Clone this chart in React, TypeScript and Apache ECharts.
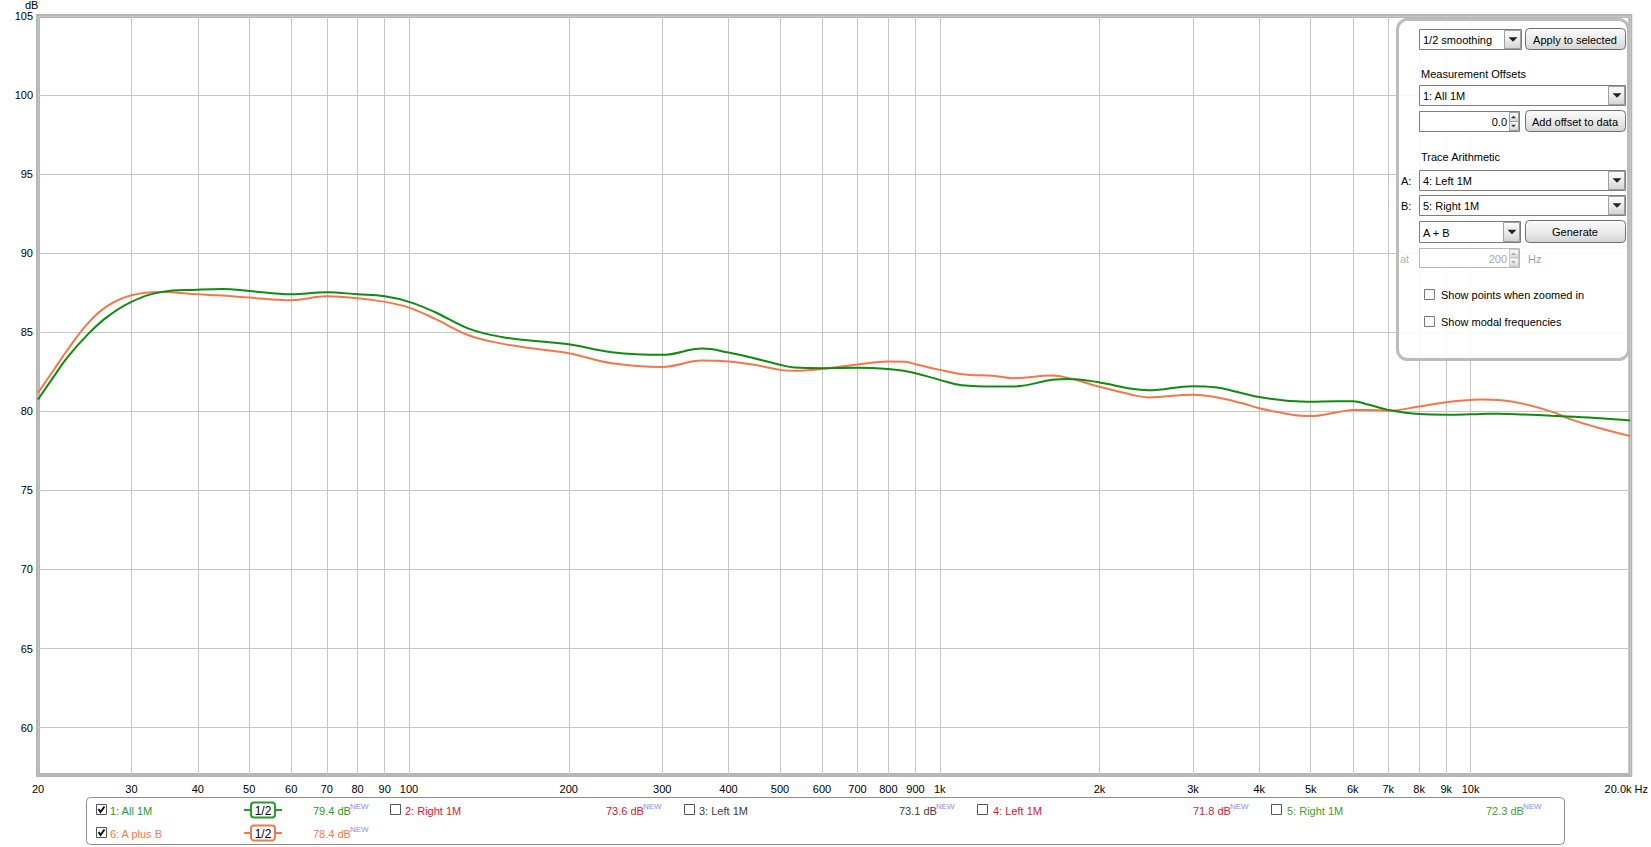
import React, { useEffect, useRef } from 'react';
import * as echarts from 'echarts';

// ---- data ----
const freqHz = [20, 21.4, 22.7, 24.8, 27.0, 30, 34.2, 40, 44.6, 50, 60, 70, 80, 90, 100, 111.8, 129.5, 149.5, 173, 200, 241, 300, 357, 400, 447, 500, 533, 600, 700, 800, 860, 900, 1000, 1100, 1270, 1370, 1630, 1750, 1980, 2300, 2470, 3000, 3300, 3700, 4000, 4460, 4800, 5000, 5560, 6000, 6440, 7000, 8000, 9000, 10000, 10500, 11300, 12600, 14200, 15600, 17600, 20000];
const allOneM = [80.75, 82.18, 83.4, 84.85, 85.97, 86.92, 87.55, 87.69, 87.74, 87.61, 87.4, 87.53, 87.4, 87.27, 86.92, 86.28, 85.23, 84.7, 84.45, 84.24, 83.74, 83.57, 83.97, 83.72, 83.36, 82.94, 82.77, 82.73, 82.75, 82.68, 82.55, 82.41, 81.99, 81.65, 81.57, 81.57, 81.99, 82.05, 81.85, 81.42, 81.33, 81.59, 81.52, 81.16, 80.9, 80.69, 80.62, 80.6, 80.64, 80.64, 80.41, 80.09, 79.83, 79.79, 79.81, 79.83, 79.85, 79.8, 79.72, 79.66, 79.56, 79.42];
const aPlusB = [81.17, 82.6, 83.86, 85.55, 86.65, 87.34, 87.55, 87.4, 87.32, 87.19, 87.02, 87.27, 87.15, 86.92, 86.56, 85.86, 84.81, 84.28, 83.95, 83.67, 83.04, 82.81, 83.21, 83.15, 82.94, 82.62, 82.56, 82.68, 82.96, 83.15, 83.13, 82.98, 82.62, 82.35, 82.24, 82.09, 82.26, 82.1, 81.59, 81.05, 80.88, 81.05, 80.9, 80.52, 80.19, 79.87, 79.72, 79.7, 79.91, 80.09, 80.09, 80.04, 80.3, 80.58, 80.71, 80.75, 80.71, 80.47, 79.98, 79.44, 78.91, 78.43];

const xTickHz = [20, 30, 40, 50, 60, 70, 80, 90, 100, 200, 300, 400, 500, 600, 700, 800, 900, 1000, 2000, 3000, 4000, 5000, 6000, 7000, 8000, 9000, 10000, 20000];
const xTickLabels = ['20', '30', '40', '50', '60', '70', '80', '90', '100', '200', '300', '400', '500', '600', '700', '800', '900', '1k', '2k', '3k', '4k', '5k', '6k', '7k', '8k', '9k', '10k', '20.0k Hz'];
const yTickDb = [60, 65, 70, 75, 80, 85, 90, 95, 100, 105];

const legendRow1 = [
  { label: '1: All 1M', value: '79.4 dB', checked: true, color: '#2a9a2a', badge: true, boxX: 96, textX: 110, valX: 313 },
  { label: '2: Right 1M', value: '73.6 dB', checked: false, color: '#e3132f', badge: false, boxX: 390, textX: 405, valX: 606 },
  { label: '3: Left 1M', value: '73.1 dB', checked: false, color: '#3c3c3c', badge: false, boxX: 684, textX: 699, valX: 899 },
  { label: '4: Left 1M', value: '71.8 dB', checked: false, color: '#d8173f', badge: false, boxX: 977, textX: 993, valX: 1193 },
  { label: '5: Right 1M', value: '72.3 dB', checked: false, color: '#44a02c', badge: false, boxX: 1271, textX: 1287, valX: 1486 },
];
const legendRow2 = [
  { label: '6: A plus B', value: '78.4 dB', checked: true, color: '#f07a4e', badge: true, boxX: 96, textX: 110, valX: 313 },
];

const FONT = '"Liberation Sans", Arial, Helvetica, sans-serif';
const GREEN = '#118a11';
const ORANGE = '#f4764a';

const lx = (f: number) => Math.log10(f);

// ---- graphic helpers ----
function txt(x: number, y: number, text: string, o: any = {}) {
  const align = o.align || 'left';
  return {
    type: 'text', x, y, z: 120, silent: true,
    style: {
      text, fill: o.color || '#000', fontSize: o.size || 11, fontFamily: FONT,
      align, verticalAlign: 'middle', textAlign: align, textVerticalAlign: 'middle',
    },
  };
}
function rect(x: number, y: number, w: number, h: number, o: any = {}) {
  return {
    type: 'rect', z: o.z || 110, silent: true,
    shape: { x, y, width: w, height: h, r: o.r || 0 },
    style: { fill: o.fill || '#fff', stroke: o.stroke || 'none', lineWidth: o.lw || 1 },
  };
}
const btnGrad = () => new echarts.graphic.LinearGradient(0, 0, 0, 1, [
  { offset: 0, color: '#fbfbfb' }, { offset: 0.5, color: '#ececec' }, { offset: 1, color: '#d3d3d3' },
]);
function tri(cx: number, cy: number, up: boolean, s: number, color = '#222') {
  const pts = up
    ? [[cx - s, cy + s / 2], [cx + s, cy + s / 2], [cx, cy - s / 2]]
    : [[cx - s, cy - s / 2], [cx + s, cy - s / 2], [cx, cy + s / 2]];
  return { type: 'polygon', z: 121, silent: true, shape: { points: pts }, style: { fill: color } };
}
function dropdown(x: number, y: number, w: number, h: number, label: string, btnW: number) {
  return [
    rect(x + 0.5, y + 0.5, w, h, { stroke: '#7d7d7d', fill: '#fff' }),
    rect(x + w - btnW + 0.5, y + 1.5, btnW - 1, h - 2, { stroke: '#a0a0a0', fill: btnGrad(), z: 111 }),
    tri(x + w - btnW / 2 + 0.5, y + h / 2 + 0.5, false, 4.5),
    txt(x + 4, y + h / 2 + 1, label),
  ];
}
function button(x: number, y: number, w: number, h: number, label: string) {
  return [
    rect(x + 0.5, y + 0.5, w, h, { stroke: '#6f6f6f', fill: btnGrad(), r: 4 }),
    txt(x + w / 2, y + h / 2 + 1, label, { align: 'center' }),
  ];
}
function spinField(x: number, y: number, w: number, h: number, val: string, disabled: boolean) {
  const c = disabled ? '#b8b8b8' : '#7d7d7d';
  return [
    rect(x + 0.5, y + 0.5, w, h, { stroke: c, fill: '#fff' }),
    rect(x + w - 10 + 0.5, y + 1.5, 9, h / 2 - 1, { stroke: disabled ? '#c8c8c8' : '#a0a0a0', fill: btnGrad(), z: 111 }),
    rect(x + w - 10 + 0.5, y + h / 2 + 0.5, 9, h / 2 - 1, { stroke: disabled ? '#c8c8c8' : '#a0a0a0', fill: btnGrad(), z: 111 }),
    tri(x + w - 5.5, y + h / 4 + 1, true, 2.5, disabled ? '#aaa' : '#333'),
    tri(x + w - 5.5, y + (3 * h) / 4, false, 2.5, disabled ? '#aaa' : '#333'),
    txt(x + w - 12, y + h / 2 + 1, val, { align: 'right', color: disabled ? '#a8a8a8' : '#000' }),
  ];
}
function checkbox(x: number, y: number, checked: boolean, stroke = '#6a6a6a') {
  const els: any[] = [rect(x + 0.5, y + 0.5, 10, 10, { stroke, fill: '#fff', z: 112 })];
  if (checked) {
    els.push({
      type: 'polyline', z: 122, silent: true,
      shape: { points: [[x + 2.5, y + 5], [x + 4.5, y + 8], [x + 8.5, y + 2.5]] },
      style: { stroke: '#111', lineWidth: 2, fill: 'none' },
    });
  }
  return els;
}
function badge(cx: number, cy: number, color: string) {
  return [
    { type: 'line', z: 112, silent: true, shape: { x1: cx - 19, y1: cy, x2: cx + 19, y2: cy }, style: { stroke: color, lineWidth: 2 } },
    rect(cx - 12, cy - 7.5, 24, 15, { stroke: color, lw: 2, fill: '#fff', r: 3, z: 113 }),
    txt(cx, cy + 1, '1/2', { align: 'center', size: 12 }),
  ];
}

function legendRow(items: any[], cy: number) {
  const els: any[] = [];
  items.forEach((it) => {
    els.push(...checkbox(it.boxX, cy - 6, it.checked, '#555'));
    els.push(txt(it.textX, cy + 1, it.label, { color: it.color }));
    if (it.badge) els.push(...badge(263, cy, it.color));
    els.push(txt(it.valX, cy + 1, it.value, { color: it.color }));
    els.push(txt(it.valX + 37, cy - 4, 'NEW', { color: '#8a8af2', size: 8 }));
  });
  return els;
}

function buildGraphics() {
  const g: any[] = [];
  g.push(txt(25, 5, 'dB'));
  // right control panel
  g.push(rect(1397.5, 19.5, 231, 340, { stroke: '#bcbcbc', lw: 3, fill: 'rgba(255,255,255,0.86)', r: 10, z: 100 }));
  g.push(...dropdown(1419, 29, 102, 20, '1/2 smoothing', 17));
  g.push(...button(1525, 28, 100, 21, 'Apply to selected'));
  g.push(txt(1421, 74, 'Measurement Offsets'));
  g.push(...dropdown(1419, 85, 206, 20, '1: All 1M', 17));
  g.push(...spinField(1419, 111, 100, 20, '0.0', false));
  g.push(...button(1525, 110, 100, 21, 'Add offset to data'));
  g.push(txt(1421, 157, 'Trace Arithmetic'));
  g.push(txt(1401, 181, 'A:'));
  g.push(...dropdown(1419, 170, 206, 20, '4: Left 1M', 17));
  g.push(txt(1401, 206, 'B:'));
  g.push(...dropdown(1419, 195, 206, 20, '5: Right 1M', 17));
  g.push(...dropdown(1419, 221, 101, 21, 'A + B', 17));
  g.push(...button(1525, 220, 100, 22, 'Generate'));
  g.push(txt(1400, 259, 'at', { color: '#b0b0b0' }));
  g.push(...spinField(1419, 248, 100, 19, '200', true));
  g.push(txt(1528, 259, 'Hz', { color: '#a0a0a0' }));
  g.push(...checkbox(1424, 289, false, '#7a7a7a'));
  g.push(txt(1441, 295, 'Show points when zoomed in'));
  g.push(...checkbox(1424, 316, false, '#7a7a7a'));
  g.push(txt(1441, 322, 'Show modal frequencies'));
  // legend box
  g.push(rect(86.5, 797.5, 1478, 47, { stroke: '#8c8c8c', fill: '#fff', r: 4, z: 100 }));
  g.push(...legendRow(legendRow1, 810));
  g.push(...legendRow(legendRow2, 833));
  return g;
}

export default function App() {
  const ref = useRef<HTMLDivElement>(null);
  useEffect(() => {
    if (!ref.current) return;
    const chart = echarts.init(ref.current, null, { renderer: 'svg' });
    const xCustom = xTickHz.map(lx);
    chart.setOption({
      animation: false,
      backgroundColor: '#fff',
      grid: { left: 38, right: 19, top: 16, bottom: 72, show: true, borderColor: '#b5b5b5', borderWidth: 4, backgroundColor: 'transparent' },
      xAxis: {
        type: 'value', min: lx(20), max: lx(20000),
        axisLine: { show: false },
        axisTick: { show: false, customValues: xCustom },
        axisLabel: {
          customValues: xCustom, color: '#000', fontSize: 11, fontFamily: FONT, margin: 8,
          formatter: (v: number) => {
            const i = xTickHz.findIndex((f) => Math.abs(lx(f) - v) < 1e-6);
            if (i < 0) return '';
            const s = xTickLabels[i];
            return i === xTickLabels.length - 1 ? `{last|${s}}` : s;
          },
          rich: { last: { fontSize: 11, fontFamily: FONT, color: '#000', padding: [0, 8, 0, 0] } },
        },
        splitLine: { show: true, lineStyle: { color: '#c6c6c6', width: 1 } },
      },
      yAxis: {
        type: 'value', min: 57, max: 105,
        axisLine: { show: false },
        axisTick: { show: false, customValues: yTickDb },
        axisLabel: { customValues: yTickDb, color: '#000', fontSize: 11, fontFamily: FONT, margin: 5 },
        splitLine: { show: true, lineStyle: { color: '#c6c6c6', width: 1 } },
      },
      series: [
        {
          name: '6: A plus B', type: 'line', smooth: 0.4, showSymbol: false, symbol: 'none',
          data: freqHz.map((f, i) => [lx(f), aPlusB[i]]),
          lineStyle: { color: ORANGE, width: 2 }, z: 3,
        },
        {
          name: '1: All 1M', type: 'line', smooth: 0.4, showSymbol: false, symbol: 'none',
          data: freqHz.map((f, i) => [lx(f), allOneM[i]]),
          lineStyle: { color: GREEN, width: 2 }, z: 4,
        },
      ],
      graphic: buildGraphics(),
    });
    return () => chart.dispose();
  }, []);
  return <div ref={ref} style={{ position: 'fixed', left: 0, top: 0, width: 1651, height: 847 }} />;
}
